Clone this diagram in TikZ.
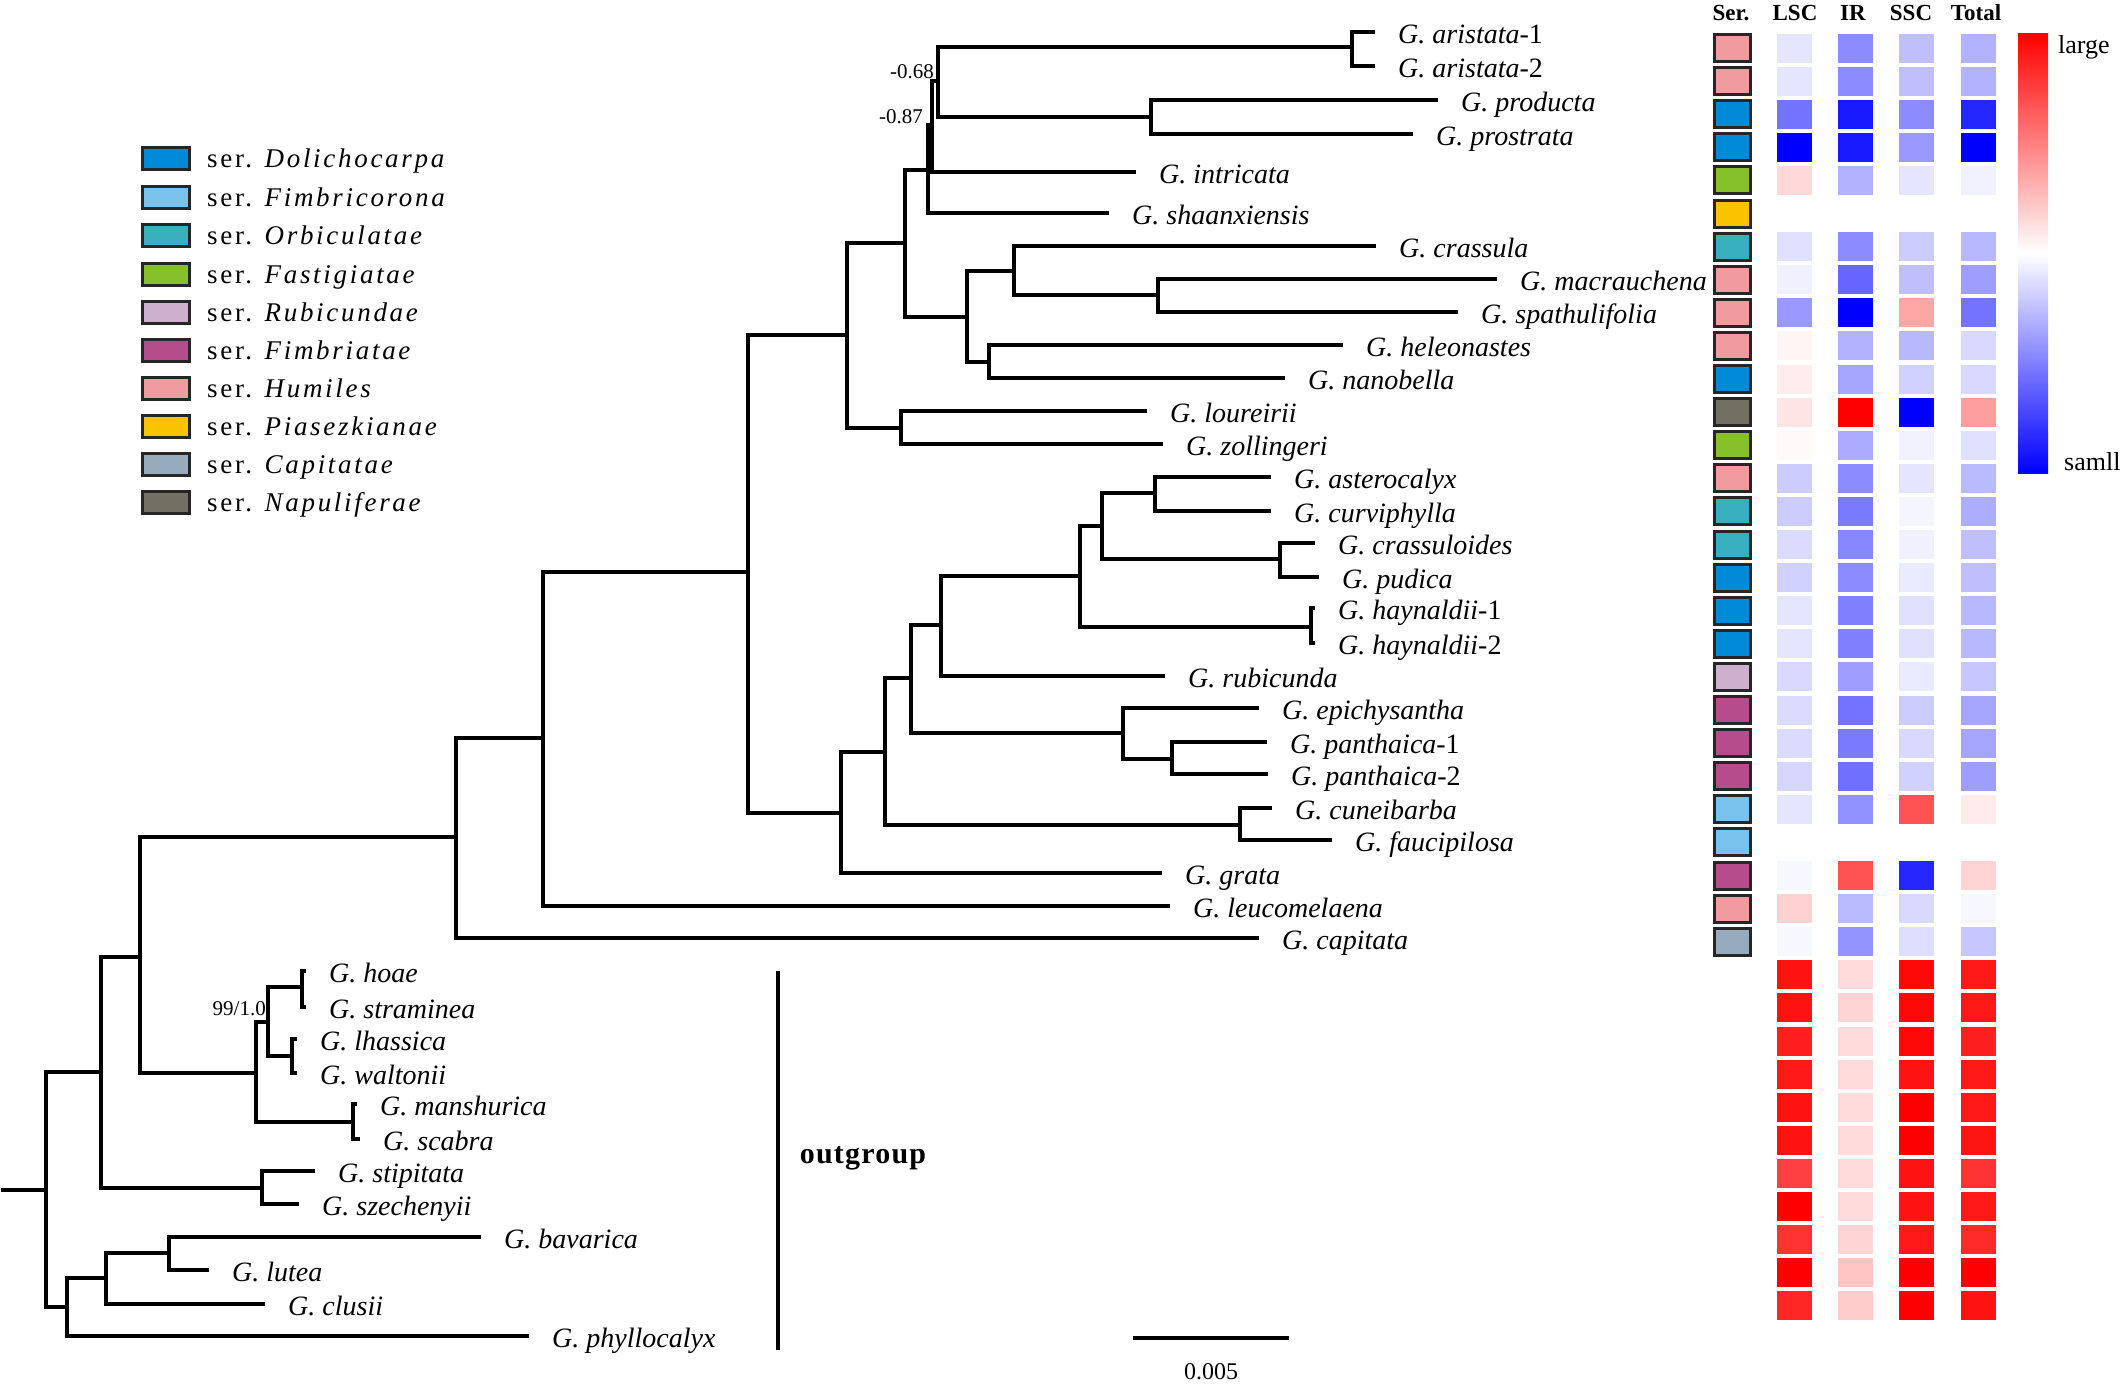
\documentclass[tikz,border=0pt]{standalone}
\usepackage{fontspec}
\setmainfont{Liberation Serif}
\newfontfamily\legfont[LetterSpace=10]{Liberation Serif}
\newfontfamily\ogfont[LetterSpace=4]{Liberation Serif}

\definecolor{dolicho}{RGB}{0,137,215}
\definecolor{fimbricor}{RGB}{120,195,238}
\definecolor{orbic}{RGB}{57,176,190}
\definecolor{fastig}{RGB}{134,192,42}
\definecolor{rubic}{RGB}{205,176,205}
\definecolor{fimbriat}{RGB}{181,77,140}
\definecolor{humil}{RGB}{239,155,160}
\definecolor{piasez}{RGB}{250,195,0}
\definecolor{capit}{RGB}{150,172,188}
\definecolor{napul}{RGB}{113,112,99}

\tikzset{
  branch/.style={line width=3.2, line cap=rect},
  taxon/.style={anchor=base west, inner sep=0, xshift=25pt, yshift=-11pt,
    font=\fontsize{28}{30}\selectfont},
  support/.style={inner sep=0, font=\fontsize{21}{22}\selectfont},
  head/.style={inner sep=0, font=\fontsize{23}{26}\selectfont\bfseries},
  legtext/.style={anchor=base west, inner sep=0, yshift=-9pt,
    font=\fontsize{27}{28}\selectfont\legfont},
  serbox/.style={draw=black!85, line width=3},
}

% tip of the tree and its label
\newcommand{\taxon}[4]{%
  \coordinate (t#1) at (#2,#3);
  \node[taxon] (l#1) at (t#1) {#4};}
% one internal node with its two children
\newcommand{\clade}[3]{\draw[branch] (#2) -| (#1) |- (#3);}
% heat map
\newcommand{\heatcell}[3]{%
  \ifnum#3<0\relax
    \fill[blue!\number\numexpr0-(#3)\relax!white] (#1-17.5,#2-14.5) rectangle (#1+17.5,#2+14.5);
  \else
    \fill[red!#3!white] (#1-17.5,#2-14.5) rectangle (#1+17.5,#2+14.5);
  \fi}
\newcommand{\heatrow}[5]{%
  \pgfmathsetmacro{\hy}{48+33.1*(#1-1)}
  \heatcell{1794.5}{\hy}{#2}\heatcell{1855.5}{\hy}{#3}%
  \heatcell{1916.5}{\hy}{#4}\heatcell{1978}{\hy}{#5}}
\newcommand{\serrow}[2]{%
  \pgfmathsetmacro{\hy}{48+33.1*(#1-1)}
  \filldraw[serbox, fill=#2] (1714.5,\hy-13.5) rectangle (1750.5,\hy+13.5);}
\newcommand{\legitem}[4]{%
  \filldraw[serbox, fill=#3] (142.5,#2-11) rectangle (189.5,#2+11);
  \node[legtext] (#1) at (207,#2) {ser. \textit{#4}};}

\begin{document}
\begin{tikzpicture}[x=1pt, y=-1pt]
\useasboundingbox (0,0) rectangle (2128,1384);

% legend
\legitem{legA}{158}{dolicho}{Dolichocarpa}
\legitem{legB}{197}{fimbricor}{Fimbricorona}
\legitem{legC}{235}{orbic}{Orbiculatae}
\legitem{legD}{274}{fastig}{Fastigiatae}
\legitem{legE}{312}{rubic}{Rubicundae}
\legitem{legF}{350}{fimbriat}{Fimbriatae}
\legitem{legG}{388}{humil}{Humiles}
\legitem{legH}{426}{piasez}{Piasezkianae}
\legitem{legI}{464}{capit}{Capitatae}
\legitem{legJ}{502}{napul}{Napuliferae}

% internal nodes
\coordinate (stub) at (3,1190);
\coordinate (root) at (46,1190);
\coordinate (oA) at (101,1072);
\coordinate (oB) at (140,957);
\coordinate (oStip) at (262,1188);
\coordinate (oC) at (67,1307);
\coordinate (oD) at (106,1278);
\coordinate (oBav) at (169,1253);
\coordinate (oHoa) at (256,1073);
\coordinate (oE) at (268,1022);
\coordinate (oHs) at (302,987);
\coordinate (oLw) at (292,1056);
\coordinate (oMs) at (353,1122);
\coordinate (iA) at (456,837);
\coordinate (iB) at (543,738);
\coordinate (iC) at (748,572);
\coordinate (iD) at (847,335);
\coordinate (iE) at (905,243);
\coordinate (iF) at (928,170);
\coordinate (iG) at (932,125);
\coordinate (iH) at (938,81);
\coordinate (iAri) at (1352,47);
\coordinate (iPro) at (1151,117);
\coordinate (iI) at (967,317);
\coordinate (iJ) at (1014,271);
\coordinate (iMac) at (1158,295);
\coordinate (iHel) at (989,362);
\coordinate (iLou) at (901,428);
\coordinate (iK) at (841,813);
\coordinate (iL) at (885,752);
\coordinate (iCun) at (1240,825);
\coordinate (iM) at (911,678);
\coordinate (iEpi) at (1123,733);
\coordinate (iPan) at (1172,759);
\coordinate (iN) at (941,625);
\coordinate (iO) at (1080,576);
\coordinate (iHay) at (1311,627);
\coordinate (iP) at (1102,526);
\coordinate (iAst) at (1155,493);
\coordinate (iCra) at (1280,559);

% taxa
\taxon{Ari1}{1373}{32}{\textit{G. aristata}-1}
\taxon{Ari2}{1373}{66}{\textit{G. aristata}-2}
\taxon{Prod}{1436}{100}{\textit{G. producta}}
\taxon{Pros}{1411}{134}{\textit{G. prostrata}}
\taxon{Intr}{1134}{172}{\textit{G. intricata}}
\taxon{Shaa}{1107}{213}{\textit{G. shaanxiensis}}
\taxon{Cras}{1374}{246}{\textit{G. crassula}}
\taxon{Macr}{1495}{279}{\textit{G. macrauchena}}
\taxon{Spat}{1456}{312}{\textit{G. spathulifolia}}
\taxon{Hele}{1341}{345}{\textit{G. heleonastes}}
\taxon{Nano}{1283}{378}{\textit{G. nanobella}}
\taxon{Lour}{1145}{411}{\textit{G. loureirii}}
\taxon{Zoll}{1161}{444}{\textit{G. zollingeri}}
\taxon{Aste}{1269}{477}{\textit{G. asterocalyx}}
\taxon{Curv}{1269}{511}{\textit{G. curviphylla}}
\taxon{Crsl}{1313}{543}{\textit{G. crassuloides}}
\taxon{Pudi}{1317}{577}{\textit{G. pudica}}
\taxon{Hay1}{1313}{608}{\textit{G. haynaldii}-1}
\taxon{Hay2}{1313}{643}{\textit{G. haynaldii}-2}
\taxon{Rubi}{1163}{676}{\textit{G. rubicunda}}
\taxon{Epic}{1257}{708}{\textit{G. epichysantha}}
\taxon{Pan1}{1265}{742}{\textit{G. panthaica}-1}
\taxon{Pan2}{1266}{774}{\textit{G. panthaica}-2}
\taxon{Cune}{1270}{808}{\textit{G. cuneibarba}}
\taxon{Fauc}{1330}{840}{\textit{G. faucipilosa}}
\taxon{Grat}{1160}{873}{\textit{G. grata}}
\taxon{Leuc}{1168}{906}{\textit{G. leucomelaena}}
\taxon{Capi}{1257}{938}{\textit{G. capitata}}
\taxon{Hoae}{304}{971}{\textit{G. hoae}}
\taxon{Stra}{304}{1007}{\textit{G. straminea}}
\taxon{Lhas}{295}{1039}{\textit{G. lhassica}}
\taxon{Walt}{295}{1073}{\textit{G. waltonii}}
\taxon{Mans}{355}{1104}{\textit{G. manshurica}}
\taxon{Scab}{358}{1139}{\textit{G. scabra}}
\taxon{Stip}{313}{1171}{\textit{G. stipitata}}
\taxon{Szec}{297}{1204}{\textit{G. szechenyii}}
\taxon{Bava}{479}{1237}{\textit{G. bavarica}}
\taxon{Lute}{207}{1270}{\textit{G. lutea}}
\taxon{Clus}{263}{1304}{\textit{G. clusii}}
\taxon{Phyl}{527}{1336}{\textit{G. phyllocalyx}}

% branches
\draw[branch] (stub) -- (root);
\clade{root}{oA}{oC}
\clade{oA}{oB}{oStip}
\clade{oB}{iA}{oHoa}
\clade{oHoa}{oE}{oMs}
\clade{oE}{oHs}{oLw}
\clade{oHs}{tHoae}{tStra}
\clade{oLw}{tLhas}{tWalt}
\clade{oMs}{tMans}{tScab}
\clade{oStip}{tStip}{tSzec}
\clade{oC}{oD}{tPhyl}
\clade{oD}{oBav}{tClus}
\clade{oBav}{tBava}{tLute}
\clade{iA}{iB}{tCapi}
\clade{iB}{iC}{tLeuc}
\clade{iC}{iD}{iK}
\clade{iD}{iE}{iLou}
\clade{iE}{iF}{iI}
\clade{iF}{iG}{tShaa}
\clade{iG}{iH}{tIntr}
\clade{iH}{iAri}{iPro}
\clade{iAri}{tAri1}{tAri2}
\clade{iPro}{tProd}{tPros}
\clade{iI}{iJ}{iHel}
\clade{iJ}{tCras}{iMac}
\clade{iMac}{tMacr}{tSpat}
\clade{iHel}{tHele}{tNano}
\clade{iLou}{tLour}{tZoll}
\clade{iK}{iL}{tGrat}
\clade{iL}{iM}{iCun}
\clade{iCun}{tCune}{tFauc}
\clade{iM}{iN}{iEpi}
\clade{iEpi}{tEpic}{iPan}
\clade{iPan}{tPan1}{tPan2}
\clade{iN}{iO}{tRubi}
\clade{iO}{iP}{iHay}
\clade{iHay}{tHay1}{tHay2}
\clade{iP}{iAst}{iCra}
\clade{iAst}{tAste}{tCurv}
\clade{iCra}{tCrsl}{tPudi}

% support values
\node[support, anchor=east] (sup68) at (934,72) {-0.68};
\node[support, anchor=east] (sup87) at (923,117) {-0.87};
\node[support, anchor=east] (sup99) at (266,1009) {99/1.0};

% outgroup bracket
\coordinate (ogTop) at (778,971);
\coordinate (ogBot) at (778,1350);
\draw[line width=3.2] (ogTop) -- (ogBot);
\node[inner sep=0, font=\fontsize{30}{32}\selectfont\ogfont\bfseries] (og) at (863,1158) {outgroup};

% scale bar
\coordinate (sbL) at (1133,1338);
\coordinate (sbR) at (1289,1338);
\draw[line width=3.2] (sbL) -- (sbR);
\node[inner sep=0, font=\fontsize{24}{26}\selectfont] (sbLab) at (1211,1372) {0.005};

% heat map
\node[head] (hSer) at (1731,13) {Ser.};
\node[head] (hLSC) at (1795,13) {LSC};
\node[head] (hIR) at (1853,13) {IR};
\node[head] (hSSC) at (1911,13) {SSC};
\node[head] (hTot) at (1976,13) {Total};

\serrow{1}{humil}\serrow{2}{humil}\serrow{3}{dolicho}\serrow{4}{dolicho}
\serrow{5}{fastig}\serrow{6}{piasez}\serrow{7}{orbic}\serrow{8}{humil}
\serrow{9}{humil}\serrow{10}{humil}\serrow{11}{dolicho}\serrow{12}{napul}
\serrow{13}{fastig}\serrow{14}{humil}\serrow{15}{orbic}\serrow{16}{orbic}
\serrow{17}{dolicho}\serrow{18}{dolicho}\serrow{19}{dolicho}\serrow{20}{rubic}
\serrow{21}{fimbriat}\serrow{22}{fimbriat}\serrow{23}{fimbriat}\serrow{24}{fimbricor}
\serrow{25}{fimbricor}\serrow{26}{fimbriat}\serrow{27}{humil}\serrow{28}{capit}

\heatrow{1}{-10}{-45}{-25}{-30}
\heatrow{2}{-10}{-45}{-25}{-30}
\heatrow{3}{-55}{-90}{-45}{-85}
\heatrow{4}{-100}{-90}{-40}{-100}
\heatrow{5}{15}{-30}{-10}{-5}
\heatrow{7}{-12}{-45}{-20}{-28}
\heatrow{8}{-6}{-60}{-25}{-38}
\heatrow{9}{-40}{-100}{35}{-55}
\heatrow{10}{4}{-30}{-28}{-15}
\heatrow{11}{7}{-35}{-18}{-15}
\heatrow{12}{10}{100}{-100}{38}
\heatrow{13}{2}{-33}{-5}{-12}
\heatrow{14}{-20}{-45}{-10}{-27}
\heatrow{15}{-20}{-52}{-4}{-32}
\heatrow{16}{-14}{-47}{-6}{-25}
\heatrow{17}{-18}{-45}{-8}{-25}
\heatrow{18}{-10}{-50}{-12}{-28}
\heatrow{19}{-10}{-50}{-12}{-28}
\heatrow{20}{-15}{-38}{-8}{-22}
\heatrow{21}{-14}{-55}{-20}{-35}
\heatrow{22}{-14}{-52}{-15}{-35}
\heatrow{23}{-16}{-56}{-18}{-38}
\heatrow{24}{-10}{-43}{68}{8}
\heatrow{26}{-3}{68}{-85}{17}
\heatrow{27}{18}{-27}{-15}{-3}
\heatrow{28}{-3}{-42}{-13}{-22}
\heatrow{29}{93}{14}{97}{90}
\heatrow{30}{93}{17}{97}{90}
\heatrow{31}{88}{14}{97}{88}
\heatrow{32}{90}{14}{93}{90}
\heatrow{33}{93}{14}{100}{90}
\heatrow{34}{93}{14}{100}{92}
\heatrow{35}{75}{14}{93}{80}
\heatrow{36}{100}{14}{93}{90}
\heatrow{37}{80}{17}{90}{83}
\heatrow{38}{100}{23}{100}{100}
\heatrow{39}{85}{20}{100}{93}

% colour scale
\shade[top color=red, bottom color=blue, middle color=white] (2018,33) rectangle (2048,473);
\node[inner sep=0, anchor=west, font=\fontsize{26}{28}\selectfont] (large) at (2058,47) {large};
\node[inner sep=0, anchor=west, font=\fontsize{26}{28}\selectfont] (small) at (2064,462) {samll};
\end{tikzpicture}
\end{document}
